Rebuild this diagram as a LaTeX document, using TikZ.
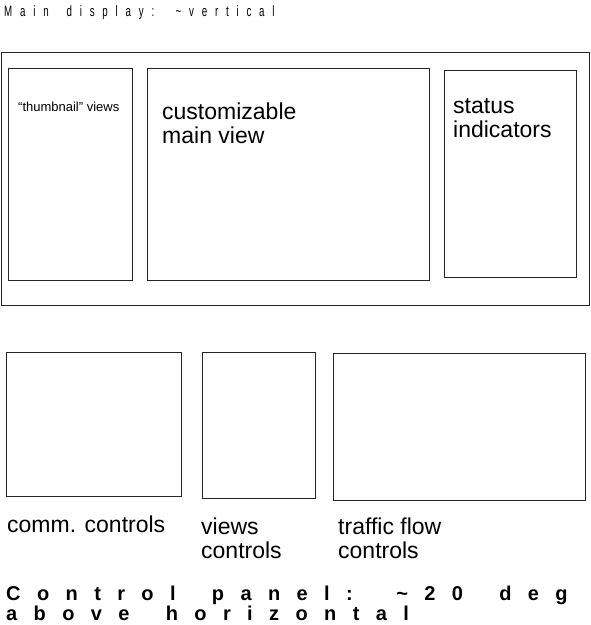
\documentclass[tikz,border=0pt]{standalone}
\usepackage{fontspec}
\setmainfont{Liberation Sans}
\newfontfamily\displaytitlefont[FakeStretch=0.65,LetterSpace=52,WordSpace=1.7]{Liberation Sans}
\newfontfamily\paneltitlefont[LetterSpace=82,WordSpace=1.65]{Liberation Sans}
\usetikzlibrary{positioning}

\begin{document}
\begin{tikzpicture}[
x=1pt,y=-1pt,
frame/.style={draw=black!85,line width=0.8pt,inner sep=0pt},
panel/.style={frame},
lbl/.style={font=\fontsize{23}{24}\selectfont,inner sep=0pt,align=left,anchor=base west},
smalllbl/.style={font=\fontsize{13}{15}\selectfont,inner sep=0pt,anchor=base west},
heading/.style={inner sep=0pt,align=left,anchor=base west}]

\useasboundingbox (0,0) rectangle (591,625);

\node[heading,font=\displaytitlefont\fontsize{15}{18}\selectfont] (displaytitle) at (4,16) {Main display: \char`\~vertical};

\node[frame,minimum width=588,minimum height=253] (display) at (295,178.5) {};

\node[panel,minimum width=124,minimum height=212] (thumbs) at (70,174) {};

\node[panel,minimum width=282,minimum height=212] (mainview) at (288,174) {};

\node[panel,minimum width=132,minimum height=207] (status) at (510,173.5) {};

% multi-line labels sit on their last baseline
\node[smalllbl] (thumbslbl) at (18,111) {“thumbnail” views};

\node[lbl] (mainviewlbl) at (162,143) {customizable\\main view};

\node[lbl] (statuslbl) at (453,137) {status\\indicators};

\node[panel,minimum width=175,minimum height=144] (comm) at (93.5,424) {};

\node[panel,minimum width=113,minimum height=146] (views) at (258.5,425) {};

\node[panel,minimum width=252,minimum height=147] (traffic) at (459,426.5) {};

\node[lbl] (commlbl) at (7,532) {comm. controls};

\node[lbl] (viewslbl) at (201,558) {views\\controls};

\node[lbl] (trafficlbl) at (338,558) {traffic flow\\controls};

\node[heading,font=\paneltitlefont\bfseries\fontsize{20}{20}\selectfont] (paneltitle) at (6,620) {Control panel: \char`\~20 deg\\above horizontal};

\end{tikzpicture}
\end{document}
